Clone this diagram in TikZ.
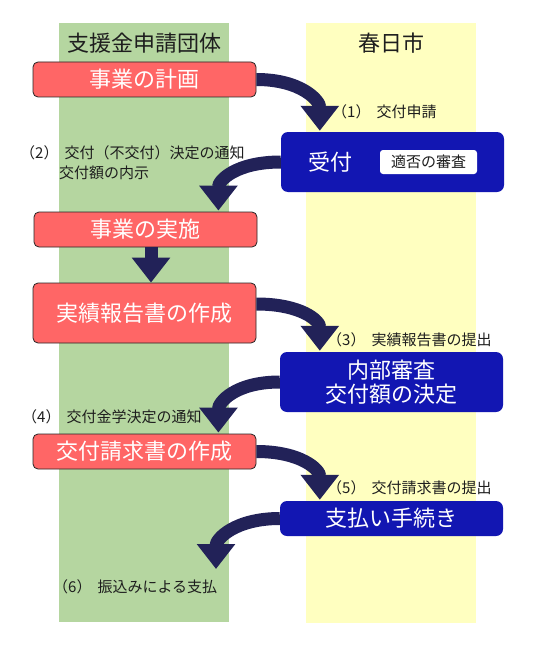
\documentclass[tikz,border=0pt]{standalone}
\usepackage{fontspec}
\setmainfont{Noto Sans CJK JP}
\usetikzlibrary{arrows.meta,calc}
\definecolor{colgreen}{RGB}{181,214,160}
\definecolor{colyellow}{RGB}{255,255,192}
\definecolor{boxred}{RGB}{255,102,102}
\definecolor{boxblue}{RGB}{18,22,178}
\definecolor{arrowc}{RGB}{34,34,88}
\definecolor{txt}{RGB}{30,30,30}
\begin{document}
\begin{tikzpicture}[x=1pt,y=-1pt,
  redbox/.style={draw=black!85, line width=0.8pt, fill=boxred, rounded corners=5pt,
    minimum width=223pt, text=white, font=\fontsize{22}{24}\selectfont, inner sep=0pt},
  bluebox/.style={fill=boxblue, rounded corners=7pt, minimum width=223pt, text=white,
    font=\fontsize{22}{24}\selectfont, inner sep=0pt, align=center},
  lbl/.style={font=\fontsize{15}{20}\selectfont, text=txt, inner sep=0pt, anchor=west},
  head/.style={font=\fontsize{22}{24}\selectfont, text=txt, inner sep=0pt},
  bigarrow/.style={draw=arrowc, line width=13pt, -{Triangle[width=37pt,length=25pt]}},
]
\useasboundingbox (0,0) rectangle (550,650);
\fill[white] (0,0) rectangle (550,650);
% columns
\fill[colgreen] (59,23) rectangle (229,622);
\fill[colyellow] (306,23) rectangle (476,623);
\node[head] (h1) at (144,43) {支援金申請団体};
\node[head] (h2) at (391,43) {春日市};
% boxes
\node[redbox, minimum height=35pt] (r1) at (144.5,79.5) {事業の計画};
\node[redbox, minimum height=35pt] (r2) at (145.5,229.5) {事業の実施};
\node[redbox, minimum height=60pt] (r3) at (144.5,313) {実績報告書の作成};
\node[redbox, minimum height=35pt] (r4) at (144.5,451.5) {交付請求書の作成};
\node[bluebox, minimum height=60pt] (b1) at (392.5,162) {};
\node[text=white, font=\fontsize{22}{24}\selectfont, inner sep=0pt] (b1t) at (330,162) {受付};
\node[fill=white, rounded corners=3pt, minimum width=97pt, minimum height=24pt, inner sep=0pt,
  font=\fontsize{15}{18}\selectfont, text=txt] (b1s) at (428.5,162) {適否の審査};
\node[bluebox, minimum height=60pt] (b2) at (391.5,382) {内部審査\\交付額の決定};
\node[bluebox, minimum height=35pt] (b3) at (391.5,518.5) {支払い手続き};
\coordinate (pay) at (216,569);
% arrows
\draw[bigarrow] (r1.east) .. controls +(45,0) and +(0,-30) .. ($(b1.north west)+(39,-1)$);
\draw[bigarrow] (b1.west) .. controls +(-45,0) and +(0,-30) .. ($(r2.north east)+(-39,-1)$);
\draw[bigarrow] ([xshift=5.5pt]r2.south) -- ([xshift=5.5pt]r2.south |- r3.north);
\draw[bigarrow] ([yshift=9pt]r3.east) .. controls +(45,0) and +(0,-30) .. ($(b2.north west)+(40,-1)$);
\draw[bigarrow] (b2.west) .. controls +(-45,0) and +(0,-30) .. ($(r4.north east)+(-38,-1)$);
\draw[bigarrow] (r4.east) .. controls +(45,0) and +(0,-30) .. ($(b3.north west)+(40,-1)$);
\draw[bigarrow] (b3.west) .. controls +(-45,0) and +(0,-30) .. (pay);
% labels
\node[lbl] (l1) at (332,112) {（1）\hspace{6pt}交付申請};
\node[lbl, align=left] (l2) at (20,163) {（2）\hspace{6pt}交付（不交付）決定の通知\\\hspace*{39pt}交付額の内示};
\node[lbl] (l3) at (327,340) {（3）\hspace{6pt}実績報告書の提出};
\node[lbl] (l4) at (22,417) {（4）\hspace{6pt}交付金学決定の通知};
\node[lbl] (l5) at (327,488) {（5）\hspace{6pt}交付請求書の提出};
\node[lbl] (l6) at (53,587) {（6）\hspace{6pt}振込みによる支払};
\end{tikzpicture}
\end{document}
